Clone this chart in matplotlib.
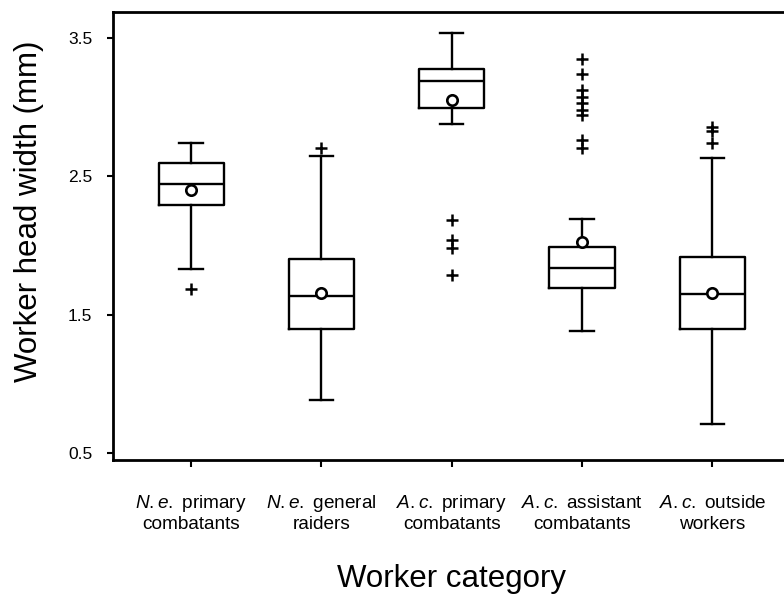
import matplotlib
matplotlib.use('Agg')
import matplotlib.pyplot as plt

plt.rcParams['font.family'] = 'Liberation Sans'
plt.rcParams['mathtext.fontset'] = 'custom'
plt.rcParams['mathtext.it'] = 'Liberation Sans:italic'
plt.rcParams['mathtext.rm'] = 'Liberation Sans'

# worker categories (two lines each, genus abbreviation in italics)
label_top = [r'$\it{N.e.}$ primary', r'$\it{N.e.}$ general', r'$\it{A.c.}$ primary',
             r'$\it{A.c.}$ assistant', r'$\it{A.c.}$ outside']
label_bottom = ['combatants', 'raiders', 'combatants', 'combatants', 'workers']

# box statistics (mm)
whishi = [2.74, 2.65, 3.54, 2.19, 2.63]
q3 = [2.60, 1.90, 3.28, 1.99, 1.92]
medians = [2.445, 1.635, 3.19, 1.84, 1.65]
means = [2.40, 1.657, 3.05, 2.026, 1.657]
q1 = [2.29, 1.40, 2.995, 1.69, 1.40]
whislo = [1.83, 0.88, 2.88, 1.38, 0.71]
fliers = [[1.686],
          [2.705],
          [2.185, 2.04, 1.98, 1.787],
          [3.35, 3.24, 3.125, 3.074, 3.031, 2.98, 2.944, 2.763, 2.705],
          [2.86, 2.83, 2.74]]

positions = [1, 2, 3, 4, 5]

stats = []
for i in range(len(positions)):
    stats.append(dict(med=medians[i], q1=q1[i], q3=q3[i],
                      whislo=whislo[i], whishi=whishi[i], mean=means[i],
                      fliers=fliers[i]))

fig = plt.figure(figsize=(7.84, 5.96), dpi=100)
ax = fig.add_axes([113/784, 136/596, 671/784, 448/596])

lw = 1.7
ax.bxp(stats, positions=positions, widths=0.5, capwidths=0.18,
       showmeans=True,
       boxprops=dict(color='black', linewidth=lw),
       whiskerprops=dict(color='black', linewidth=lw),
       capprops=dict(color='black', linewidth=lw),
       medianprops=dict(color='black', linewidth=lw),
       meanprops=dict(marker='o', markerfacecolor='white', markeredgecolor='black',
                      markersize=7.5, markeredgewidth=1.9),
       flierprops=dict(marker='+', markeredgecolor='black', markersize=8,
                       markeredgewidth=1.8))

ax.set_xlim(0.40, 5.55)
ax.set_ylim(0.449, 3.689)
ax.set_yticks([0.5, 1.5, 2.5, 3.5])
ax.set_yticklabels(['0.5', '1.5', '2.5', '3.5'])
ax.set_xticks(positions)
ax.set_xticklabels([])

# category labels under the ticks
for p, t1, t2 in zip(positions, label_top, label_bottom):
    ax.annotate(t1, xy=(p, 0), xycoords=('data', 'axes fraction'),
                xytext=(0, -34.5), textcoords='offset points',
                ha='center', va='baseline', fontsize=13.7)
    ax.annotate(t2, xy=(p, 0), xycoords=('data', 'axes fraction'),
                xytext=(0, -49.7), textcoords='offset points',
                ha='center', va='baseline', fontsize=13.7)

ax.spines['right'].set_visible(False)
for s in ['left', 'bottom', 'top']:
    ax.spines[s].set_linewidth(2.0)

ax.tick_params(axis='y', direction='out', length=4, width=1.5, pad=11, labelsize=12.5)
ax.tick_params(axis='x', direction='out', length=5, width=1.5)

ax.set_ylabel('Worker head width (mm)', fontsize=22.5, labelpad=17, y=0.556)
ax.set_xlabel('Worker category', fontsize=22.5)
ax.xaxis.set_label_coords(0.505, -0.233)

fig.savefig('out.png', dpi=100)
